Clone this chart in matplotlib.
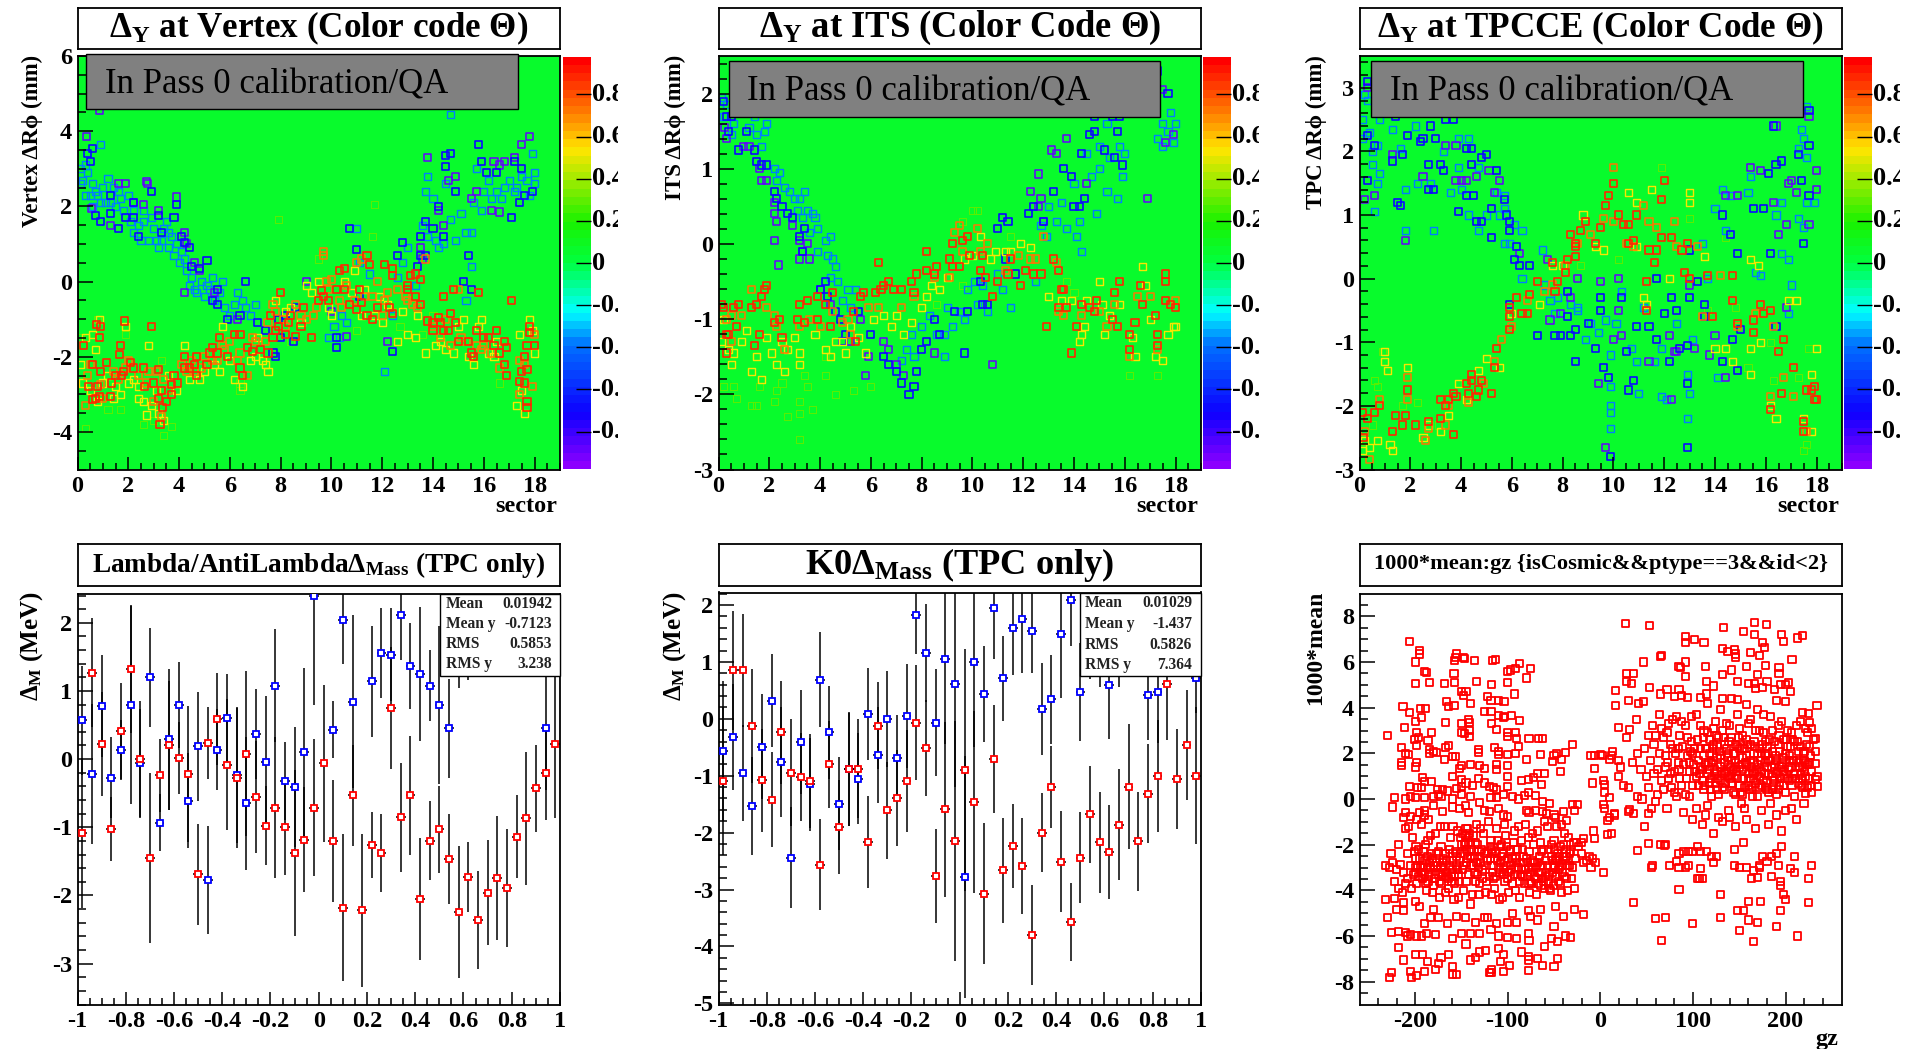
import matplotlib
matplotlib.use("Agg")
import matplotlib.pyplot as plt
import numpy as np
from matplotlib.colors import LinearSegmentedColormap, BoundaryNorm
from matplotlib.patches import Rectangle
from matplotlib.transforms import Bbox

plt.rcParams['font.family'] = ['Liberation Serif', 'DejaVu Serif']
plt.rcParams['font.weight'] = 'bold'
plt.rcParams['mathtext.fontset'] = 'custom'
plt.rcParams['mathtext.rm'] = 'Liberation Serif:bold'
plt.rcParams['mathtext.it'] = 'Liberation Serif:bold'
plt.rcParams['mathtext.bf'] = 'Liberation Serif:bold'
plt.rcParams['axes.unicode_minus'] = False

W, H = 1907, 1049

# ---- colour levels of the theta code
theta_purple, theta_blue, theta_cyan = -0.9, -0.68, -0.38
theta_green, theta_yellow, theta_orange, theta_red = 0.3, 0.52, 0.72, 0.9

# ---- vertex panel
vtx_cyan = [(0.1,3),(.2,2.7),(.3,3.1),(.5,2.3),(.6,2),(.7,2.4),(.9,3.65),(.9,2.1),(1.2,2.75),(1.4,2.5),(1.5,2),(1.7,2.2),(2.2,1.3),(2.2,1.9),(2.5,1.1),(2.6,1.6),(2.8,1.1),(3,1.4),(3.3,1.1),(3.4,1.4),(3.6,.9),(3.7,1.2),(3.8,.7),(4,.5),(4.2,.6),(4.4,-.1),(4.7,-.3),(4.9,0),(5.1,-.1),(5.3,.1),(5.6,-.3),(5.8,-.7),(6.2,-.6),(6.5,-.5),(6.8,-.9),(9.9,-1.5),(10.3,-1.5),(10.1,-1.2),(10.6,-1.1),(10.4,-.9),(11,1.4),(11.1,.5),(11.5,.2),(12.1,-2.4),(12.4,-.9),(12.6,.1),(12.8,.5),(13,.9),(13.3,-.1),(13.8,1.2),(13.7,2.4),(13.8,2.8),(14.7,4.45),(14.4,1),(14.1,1.1),(14.5,2.6),(14.7,1.65),(15.3,1.3),(15.5,1.3),(15.5,.4),(15.3,-.5),(15.7,3),(15.9,1.9),(16.3,2.2),(16.5,2.4),(16.8,2.5),(17.3,2.5),(17.7,2.7),(18,2.6),(17.9,3.4),(17.2,2.4),(.1,2.6),(.3,2.3),
 (.4,2.9),(.6,2.6),(.8,2.3),(1,2.5),(1.1,2.1),(1.3,2.1),(1.6,2.4),(1.8,1.9),(2,2.3),(2.1,1.6),(2.4,1.5),(2.6,1.9),(2.9,1.7),(3.1,1.1),(3.2,.9),(3.5,1.6),(3.6,1.3),(3.9,1.0),(4.1,.8),(4.3,.3),(4.5,.1),(4.6,-.2),(5,-.4),(5.2,-.2),(5.4,-.5),(5.7,0),(6,-.9),(6.3,-.3),(6.6,-.7),(7,-.6),(13.6,1.5),(14,2.2),(14.2,.9),(14.9,1.1),(15.1,1.8),(15.6,2.1),(16,2.4),(16.2,2.7),(16.7,2.2),(17,2.7),(17.5,2.8),(17.8,2.3),(18,2.9)]
vtx_purple = [(0.35,3.85),(.85,4.55),(.55,1.95),(1.3,1.5),(2.7,2.65),(2.75,2.62),(2.2,2.1),(2.6,2.05),(3.2,1.9),(3.9,2.25),(4.2,1.3),(4.3,1.0),(4.6,0.5),(4.2,-0.3),(6.3,-1.0),(9.0,0),(10,-.8),(10.6,-1.45),(12.2,-1.6),(13.5,.9),(13.6,.6),(13.8,3.3),(14.2,1.9),(14.4,1.5),(14.9,2.8),(15.7,2.4),(16.3,1.9),(16.6,1.85),(16.4,3.2),(16.6,3.1),(16.8,3.2),(17.5,3.65),(17.8,3.85),(17.2,3.3),(1.6,2.6),(1.9,2.6),(4.8,.3),(5.4,-.3),(14.6,2.7),(15.5,2.2)]
vtx_blue = [(0.4,3.4),(.5,3.2),(.6,3.55),(.7,1.75),(.9,1.6),(1.3,2.3),(1.3,1.8),(1.6,1.4),(1.9,1.7),(2.2,1.7),(2.2,2.1),(2.9,2.4),(2.4,1.2),(3.2,1.75),(3.3,1.3),(3.8,1.7),(3.9,2.05),(4.1,1.2),(4.2,1.05),(4.4,.9),(4.5,.4),(4.8,.35),(5.1,.55),(5.5,-.6),(5.3,-.5),(5.5,-.2),(5.9,-1),(6.4,-.9),(6.6,0),(7.1,-1.1),(7.4,-1.3),(7.9,-1),(8,-1.5),(7.7,-1.9),(7.8,-2),(8.2,-.9),(8.5,-1.6),(8.6,-.7),(10.2,-1.75),(10.2,-1.5),(10.7,1.4),(11,.85),(11.1,-.4),(12.4,-1.85),(12.6,.7),(12.8,1.05),(13.4,.4),(13.5,.7),(13.7,.7),(13.5,1.2),(13.7,1.6),(14,1.4),(14.2,2),(14.4,1.2),(14.5,3.05),(14.5,3.35),(14.7,3.4),(14.9,2.4),(15.5,-.2),(15.2,0),(15.4,.7),(15.8,3.65),(15.9,3.2),(16.1,2.9),(16.5,2.9),(17.1,1.7),(17.4,2.1),(17.2,3.2),(17.5,3),(17.9,2.4),(17.6,2.3)]
vtx_green = [(0.3,-3.9),(.1,-1.5),(.8,-1.0),(3,-3.7),(3.4,-4.1),(3.7,-3.85),(7.9,1.65),(11.7,2.05),(11.6,1.2),(1.2,-3.4),(1.7,-3.4),(2.6,-3.8),(6.4,-2.9),(6.4,-2.7),(12.7,-1.2),(13.6,-1.4),(14,-.9),(16.6,-2.7),(9.5,.6),(3.3,-2.1),(1.9,-1.4),(8.4,-1.6),(11,-1.3),(12.4,-.8)]
vtx_yellow = [(0.1,-2.2),(.3,-1.5),(.7,-1.8),(.8,-3.2),(.85,-1.0),(1,-2.7),(1.4,-3.1),(1.7,-3),(1.9,-1.2),(2.2,-2.6),(2.4,-3.1),(2.7,-3.55),(2.8,-1.7),(2.9,-3.3),(3.2,-3.5),(3.4,-3.7),(3.6,-2.5),(3.9,-2.9),(4.2,-1.7),(4.8,-2.6),(5.6,-2.4),(5.7,-1.2),(6.2,-2.6),(6.5,-2.8),(7,-2),(7.3,-2.1),(7.4,-2.2),(7.5,-2.4),(7.8,-.5),(8.2,-.8),(9,-.1),(9.5,0),(10,-.9),(10.5,0),(10.9,.3),(11.3,-.2),(11.7,-.9),(12,-1.1),(12.6,-1.6),(13,-1.4),(13.3,-1.5),(13.7,-1.9),(14.3,-1.6),(14.8,-1.9),(15.2,-1),(15.4,-2),(15.6,-2.2),(15.9,-1),(16.2,-1.9),(16.4,-2),(17.3,-3.3),(17.6,-3.5),(17.4,-1.4),(17.8,-1),(18,-1.9),
 (.2,-2.7),(.5,-2.9),(.6,-1.4),(1.2,-2.5),(1.5,-2.8),(2,-2.7),(2.4,-2.8),(2.6,-3.2),(3.1,-2.9),(4.4,-2.6),(5,-2.4),(5.4,-2.2),(6,-2.1),(6.8,-2.1),(7.1,-1.5),(8.4,-.7),(8.8,-1.1),(9.2,-.3),(9.9,-.7),(10.8,-.3),(11.2,-.9),(11.9,-.4),(12.2,-.6),(12.8,-.8),(13.4,-.9),(14.1,-1.7),(14.5,-1.8),(15,-1.2),(15.8,-1.2),(16.5,-1.6),(17.5,-2.9),(17.9,-1.3)]
vtx_orange = [(0.3,-3.3),(.5,-2.2),(.9,-2.75),(1.6,-2.6),(1.9,-2.3),(2.4,-2.5),(2.7,-2.7),(3.1,-2.4),(3,-3.2),(3.3,-3.6),(3.6,-2.9),(4.1,-2.2),(4.3,-2.4),(4.6,-2.4),(5,-2),(5.3,-2.1),(5.7,-1.7),(6,-1.6),(6.3,-2.1),(6.7,-2.5),(7,-1.6),(7.5,-1.1),(7.8,-.8),(8.1,-1),(8.6,-.6),(9,-1),(9.3,-.9),(9.8,0),(10,.05),(10.3,-.5),(10.6,-.1),(11,.5),(11.2,.6),(11.3,-.4),(11.8,0),(12,-.9),(12.2,-.3),(12.6,-.2),(13,-.5),(13.4,-.7),(13.7,.6),(14,-1.2),(14.3,-1.5),(14.7,-1.7),(15,-.2),(15.3,-1.6),(15.7,-1.7),(15.9,-1.8),(16.3,-1.9),(16.6,-2.3),(17.4,-3),(17.4,-2.1),(17.9,-2.8),(18,-1.4),(9.7,.7),(9.7,.8),(7.7,-.6),
 (.4,-2.5),(1,-3.1),(1.4,-2.4),(2,-2.1),(2.8,-2.4),(3.4,-2.6),(4.5,-2.1),(4.9,-2.3),(5.5,-2.1),(5.8,-1.8),(6.4,-1.9),(6.9,-1.5),(7.4,-1.6),(8.2,-1.2),(8.8,-.9),(9.4,-.7),(9.9,-.2),(10.4,-.7),(10.9,-.5),(11.6,-.4),(12.1,-.5),(12.9,-.4),(13.2,-.6),(14.5,-1),(15.1,-1.5),(16,-1.7),(17.6,-2.2)]
vtx_red = [(0.25,-1.7),(.45,-2.8),(.6,-3.15),(.7,-3.1),(.75,-1.15),(.8,-2.8),(.85,-3.05),(.85,-1.5),(.9,-1.2),(.6,-2.2),(.9,-2.4),(1.15,-2.15),(1.3,-3.05),(1.35,-2.7),(1.5,-2.5),(1.7,-1.7),(1.65,-1.95),(1.8,-2.4),(1.75,-2.5),(1.85,-1.05),(2.1,-2.15),(2.2,-2.3),(2.6,-2.3),(2.65,-2.8),(2.9,-1.2),(3,-2.7),(3.2,-3.1),(3.2,-2.35),(3.25,-3.8),(3.3,-2.9),(3.35,-3.35),(3.5,-3.2),(3.7,-2.75),(3.7,-3.0),(3.8,-2.5),(3.95,-2.7),(4.2,-2.3),(4.2,-2.0),(4.4,-2.3),(4.6,-2.2),(4.7,-2.5),(4.7,-2.0),(5.1,-2.2),(5.2,-1.9),(5.3,-1.75),(5.5,-1.9),(5.6,-1.5),(5.9,-2),(6.2,-1.4),(6.4,-1.4),(6.4,-2.3),(6.5,-2.5),(6.7,-1.75),(6.9,-1.85),(7.2,-1.8),(7.5,-1.9),(7.6,-.9),(7.7,-1.5),(7.8,-1.3),(7.9,-1.2),(8,-.3),(8.2,-1.4),(8.3,-1.1),(8.4,-.9),(8.6,-1.45),(8.8,-1.2),(8.9,-.7),(9.2,-1.5),(9.5,-.5),(9.6,-.25),(9.7,-.4),(9.9,-.5),(10.3,.3),(10.5,.35),(10.2,-.2),(10.5,-.2),(10.7,-.6),(11,-.75),(11.2,-.55),(11.1,-.2),(11.4,-.9),(11.4,.7),(11.5,.45),(11.6,-1),(11.8,-.7),(12.3,-.7),(12.4,-.85),(12.1,.45),(12.4,.35),(12.4,.15),(13,-.1),(13,-.2),(13.1,.15),(13.3,.2),(13.3,-.4),(13.5,-.6),(13.5,.05),(13.8,-1.05),(14,-1.1),(14,-1.3),(14.2,-.95),(14.3,-1.1),(14.4,-1.3),(14.4,-.4),(14.6,-1.3),(14.7,-.85),(14.8,-.2),(14.9,-1.1),(15,-1.6),(15.4,-1.6),(15.5,-1.9),(15.6,-2),(15.7,-1.3),(15.8,-.3),(16,-1.5),(16.2,-1.5),(16.4,-1.7),(16.5,-1.3),(16.6,-1.9),(16.8,-1.6),(16.9,-1.75),(16.8,-2.2),(16.9,-2.5),(17.1,-.5),(17.4,-2.65),(17.5,-2.4),(17.6,-2.7),(17.7,-3.2),(17.7,-3.35),(17.6,-2),(17.7,-1.7),(17.7,-2.35),(17.8,-1.2),(17.8,-1.35),(18,-1.7)]

# ---- ITS panel
its_cyan = [(.1,1.95),(.2,1.7),(.5,1.45),(1.4,1.7),(1.8,1.5),(1.9,1.6),(2.2,1.0),(2.3,.85),(2.8,.7),(3,.6),(3.2,.6),(3.4,.7),(3.5,.45),(3.7,.4),(3.8,.35),(3.9,.2),(4.2,.05),(4.4,.1),(4.5,-.2),(4.6,-.3),(4.7,-.5),(5.1,-.6),(5.4,-.6),(7.4,-1.4),(7.7,-1.5),(8.0,-1.1),(8.6,-1.2),(8.9,-1.5),(9,-.85),(9.5,-.9),(9.8,-.6),(10.2,-.8),(10.6,-.9),(11,-.4),(11.5,-.85),(12.5,-.5),(12.9,.1),(13,.5),(13.3,.3),(13.7,.2),(14.1,.1),(14.2,.3),(14.3,-.1),(14.9,.4),(14.7,.9),(15,1.0),(15.3,.7),(15.7,.6),(15.8,1.3),(15.3,1.6),(16,1.2),(17.3,1.4),(17.5,1.6),(17.8,1.75),(18,1.6),(17.7,1.5),
 (.3,1.85),(.6,1.6),(1.2,1.55),(1.5,1.45),(1.7,1.3),(2.4,.95),(2.6,.75),(3.1,.45),(3.3,.35),(3.6,.15),(3.9,-.1),(4.3,-.15),(4.4,-.45),(4.9,-.75),(5.2,-.85),(7.2,-1.55),(7.6,-1.2),(8.3,-.95),(8.9,-1.2),(9.2,-1.1),(9.7,-1),(10.1,-.5),(10.4,-.55),(11.2,-.6),(12.7,.25),(13.5,.55),(14,.8),(14.5,1.2),(15,1.3),(15.4,1.15),(15.9,.9),(17.5,1.3),(17.9,1.35)]
its_purple = [(.25,1.55),(.3,1.4),(1.2,1.3),(1.6,1.0),(1.7,.85),(1.9,.85),(2.2,.05),(2.35,-.28),(2.2,.4),(2.2,.55),(2.3,.3),(2.9,.25),(3.2,.05),(3.2,-.2),(3.3,-.1),(3.5,0),(3.6,-.2),(4.0,-.6),(4.4,-.8),(5.2,-1.3),(5.6,-1.0),(5.9,-1.5),(6.5,-1.3),(6.7,-1.4),(7,-1.6),(7.3,-1.75),(5.8,-1.75),(8.5,-1.45),(10.8,-1.6),(12.3,.7),(12.6,.5),(12.7,.6),(12.8,.3),(12.6,.93),(13.1,1.25),(13.3,1.2),(13.7,1.4),(14.5,.8),(16.9,.6),(17.6,1.35),(17.2,2.05),(17.5,2.05),(17.9,1.45),(1.0,1.3)]
its_blue = [(.2,1.9),(.3,1.7),(.4,1.5),(.5,1.7),(.8,1.25),(1.1,1.5),(1.4,1.25),(1.5,1.1),(1.7,1.05),(1.9,1.05),(2.2,.7),(2.3,.6),(2.5,.5),(2.7,.4),(2.9,.35),(3.2,.1),(3.4,.2),(3.3,-.1),(4.0,-.6),(4.2,-.5),(4.3,-.7),(4.6,-.9),(4.8,-1.0),(4.9,-1.3),(5,-1.2),(5.5,-.9),(6,-1.2),(6.5,-1.5),(6.7,-1.6),(7,-1.7),(7.2,-1.85),(7.5,-2.0),(7.7,-1.9),(7.8,-1.7),(8,-1.4),(8.2,-1.3),(8.5,-1),(8.7,-1.2),(9.3,-.9),(9.7,-1.45),(9.8,-.9),(10.3,-.5),(10.4,-.8),(10.6,-.8),(11,.2),(11.2,.35),(11.4,.3),(11.3,-.2),(11.7,-.4),(12.2,.4),(12.4,.5),(12.8,.3),(13.2,.7),(13.6,1.0),(13.9,.9),(14,.5),(14.2,.5),(14.4,.6),(14.3,1.2),(14.6,1.45),(14.8,1.5),(15.5,1.7),(15.7,1.5),(15.8,1.7),(15.6,1.15),(16.5,1.75),(17.3,2.3),(17.7,2.0),(14.8,1.7),(15.2,1.25),(15.9,1.05)]
its_green = [(.2,-1.9),(.6,-1.9),(.7,-2.05),(1.3,-2.15),(1.5,-2.15),(1.6,-1.9),(2.2,-2.1),(2.3,-1.95),(2.5,-1.85),(2.7,-2.3),(3.2,-2.25),(3.2,-2.6),(3.2,-2.1),(3.4,-1.75),(3.5,-1.9),(3.7,-2.2),(4.2,-1.75),(4.6,-2.0),(4.2,-1.5),(5.3,-1.95),(6.0,-1.9),(10,.45),(10.2,.45),(9.6,.3),(11.5,.1),(14,-.65),(16.2,-1.75),(17.3,-1.75),(13.7,-.5),(8.6,-.8),(9.6,-.55)]
its_yellow = [(.2,-1),(.1,-1.3),(.5,-1.6),(.6,-1.45),(1.3,-1.7),(1.5,-1.5),(1.7,-1.8),(2.1,-1.45),(2.3,-1.6),(2.6,-1.7),(2.7,-1.4),(3.2,-1.45),(3.2,-1.6),(3.8,-1.2),(4.2,-1.4),(4.6,-1.3),(5,-1.45),(5.5,-1.25),(5.8,-1.45),(6.1,-1),(6.8,-1.1),(7.3,-1.2),(7.6,-1.05),(8.2,-.7),(8.7,-.6),(9.7,-.2),(10.3,.1),(10.9,-.1),(11.5,-.1),(11.9,0),(13,-.7),(13.9,-.75),(14.5,-.75),(14.3,-1.2),(14.2,-1.3),(15,-.5),(15.2,-1.2),(15.8,-.8),(16.4,-1.5),(16.7,-.3),(17,-1.0),(17.2,-1.5),(17.5,-1.55),(17.9,-1.1),(18,-1.1),
 (.4,-1.4),(.9,-1.3),(1.1,-1.15),(1.9,-1.25),(2.5,-1.3),(3,-1.25),(4.4,-1.5),(4.9,-1.3),(5.2,-1.1),(6.5,-.95),(7,-.95),(8,-.85),(8.4,-.55),(9,-.45),(10,-.15),(10.7,-.2),(11.3,-.1),(12.3,-.05),(13.5,-.75),(14.4,-1.1),(15.1,-.8),(15.4,-.95),(16.3,-1.25),(16.8,-.55),(17.7,-1.2)]
its_orange = [(.3,-1),(.5,-.95),(.5,-1.3),(.9,-.95),(1.3,-.6),(1.9,-.85),(2.2,-.95),(2.3,-1.1),(2.6,-1.4),(3.2,-1.1),(3.6,-1.0),(4,-1.1),(4.5,-.9),(4.9,-1.05),(5.1,-1.0),(5.2,-1.2),(5.9,-.85),(6.3,-.85),(7.2,-.85),(7.7,-.7),(8.5,-.45),(9.1,-.45),(9.3,.15),(9.5,.25),(9.6,-.1),(10.2,.2),(10.3,-.1),(10.6,.0),(11.3,-.35),(11.8,-.15),(12.3,-.2),(12.5,-.2),(12.8,.1),(13.3,-.25),(13.4,-.9),(13.6,-.95),(14.3,-.95),(15,-.9),(15.3,-1.1),(15.6,-.8),(16.2,-1.5),(16.5,-.7),(17,-.7),(17.3,-1.4),(18,-.75)]
its_red = [(.1,-.8),(.2,-.85),(.3,-1.2),(.3,-1.45),(.4,-1.2),(.6,-.85),(.7,-1.1),(.8,-.8),(1.3,-.85),(1.4,-1.35),(1.5,-.8),(1.6,-1.2),(1.7,-.7),(1.8,-.6),(1.9,-.55),(2.2,-1.05),(2.4,-1.0),(2.5,-1.25),(3.1,-1.0),(3.2,-.8),(3.4,-1.05),(3.5,-.75),(3.9,-.7),(3.9,-1.0),(4.2,-.8),(4.4,-1.1),(4.5,-.65),(5.3,-.9),(5.4,-1.3),(5.6,-.7),(5.7,-.65),(6.2,-.65),(6.3,-.25),(6.4,-.6),(6.5,-.55),(6.7,-.5),(6.9,-.6),(7.2,-.6),(7.6,-.5),(7.7,-.65),(7.8,-.4),(8.2,-.35),(8.2,-.1),(8.5,-.4),(8.6,-.3),(9.1,-.2),(9.2,-.3),(9.2,0),(9.5,-.3),(9.6,.05),(9.8,.1),(9.9,-.15),(10.3,-.35),(10.4,-.15),(10.5,-.45),(10.8,-.7),(11.0,-.5),(11.4,-.4),(11.5,-.2),(11.9,-.55),(12.1,-.35),(12.4,-.4),(12.7,-.4),(13.2,-.2),(13.4,-.35),(13.5,-.6),(13.6,-.6),(13.4,-.85),(13.7,-.85),(12.9,-1.1),(13.9,-1.45),(14.1,-1.1),(14.3,-.8),(14.6,-.85),(14.8,-.9),(14.9,-.75),(15.5,-1),(15.6,-.65),(15.7,-1.1),(15.8,-.5),(16.2,-1.2),(16.2,-1.4),(16.4,-1.05),(16.6,-.55),(16.7,-.8),(17.2,-.95),(17.3,-1.2),(17.3,-1.35),(17.6,-.75),(17.8,-.8),(17.6,-.4),(17.6,-.5),(18,-.85)]

# ---- TPCCE panel
tpc_cyan = [(.2,2.9),(.1,2.5),(.3,2.8),(.4,2.3),(.5,2.0),(.5,1.8),(.7,1.5),(.7,2.1),(.8,1.65),(.8,2.5),(.6,1.05),(1.3,2.35),(1.6,2.05),(1.8,1.4),(1.8,.75),(2.2,2.4),(2.3,1.5),(2.8,1.5),(2.9,.75),(3.3,2.0),(3.6,1.35),(3.9,2.2),(3.9,1.75),(4.0,1.4),(4.3,2.2),(4.3,1.0),(4.7,1.75),(4.7,.75),(5,1.0),(5.4,1.35),(5.5,1.0),(5.7,1.1),(5.7,1.3),(5.7,.55),(5.9,.55),(6.1,.85),(6.4,.75),(6.4,.0),(7.2,.45),(7.3,-.1),(7.5,-.35),(7.7,-.55),(7.8,-.3),(8.3,-.4),(8.6,-.5),(8.6,-.45),(8.9,-.95),(9.1,-.7),(9.4,-.85),(9.7,-.65),(9.9,-1.2),(9.9,-1.7),(9.9,-2),(9.9,-2.1),(9.9,-2.35),(10.1,-.7),(10.3,-.2),(10.7,-1.1),(10.9,-1.3),(11,-1.8),(11.2,-.45),(11.6,-1.3),(11.9,-1.1),(11.9,-1.85),(12.1,-1.9),(12.5,-.7),(12.9,-1.5),(12.9,-2.2),(13,-1.8),(13.1,-.95),(13.5,.55),(13.7,.0),(14.1,-1.55),(14,1.1),(14.3,1.4),(14.4,.75),(14.6,1.3),(15.3,1.35),(15.4,1.6),(15.6,.1),(15.8,.05),(16.4,1.0),(16.6,1.2),(16.6,.4),(16.9,.3),(16.9,-.55),(17,-.1),(17.3,.95),(17.5,.8),(17.6,1.2),(17.9,1.2),(17.4,2.35),(17.5,2.2),(17.3,2.05),(17.6,1.9),(17.6,2.7),(.1,2.2)]
tpc_purple = [(.2,1.25),(.6,1.3),(1.3,1.95),(1.8,.6),(2.5,1.6),(3.4,2.1),(3.8,2.1),(3.8,1.55),(4,1.55),(4.2,1.55),(4.6,1.6),(5.1,1.7),(5.5,1.55),(5.3,1.35),(6.3,.4),(7.4,.3),(7.5,-.65),(7.9,-.55),(8.3,-.3),(8.6,.0),(9.4,-1.65),(9.5,-.05),(9.7,-2.65),(10,-.95),(10.2,.0),(10.2,-.5),(10.3,-.9),(11.4,-1.3),(12.4,-1.15),(12.5,-1.15),(12.2,-.9),(12.3,-1.9),(13,-.1),(13.2,-1.1),(13.8,-1.2),(14.4,1.3),(14.4,-1.55),(14.9,1.3),(14,-.9),(15.4,1.75),(15.8,1.7),(16.3,1.2),(16.5,.7),(16.8,.85),(16.8,-.45),(16.9,1.5),(17,1.55),(17.2,1.35),(17.7,.85),(17.7,2.55),(18,1.7),(18,1.4),(16.4,2.4),(.3,3.0)]
tpc_blue = [(.3,3.1),(.3,2.25),(.6,2.1),(.3,1.55),(1.3,1.85),(1.4,2.55),(1.5,1.2),(1.6,1.15),(1.7,1.95),(1.9,2.25),(2.4,2.15),(2.5,2.2),(2.7,1.8),(2.8,2.4),(2.7,1.4),(2.9,1.4),(3,2.2),(3.2,1.8),(3.3,1.7),(3.4,2.5),(3.7,2.5),(3.9,1.05),(4.2,2.05),(4.4,2.05),(4.2,1.3),(4.5,1.3),(4.4,1.8),(4.6,.9),(4.8,.9),(4.8,1.9),(5,1.95),(5.2,1.1),(5.4,1.7),(5.2,.65),(5.7,1.25),(5.8,1.0),(5.9,.9),(5.9,.75),(5.9,-.4),(6.1,.3),(6.2,.5),(6.3,.2),(6.7,.2),(7,-.9),(7.7,-.9),(7.9,-.9),(8.2,-.6),(8.2,-.2),(8.3,-.9),(8.5,-.8),(8.5,-1.3),(9,-.7),(9.3,-1.1),(9.5,-.3),(9.5,-.5),(9.6,-1.4),(9.9,-2.8),(9.8,-1.55),(10.3,-.3),(10.5,-1.15),(10.6,-1.75),(10.8,-1.6),(10.9,-.75),(11.4,-.75),(11.7,-.95),(11.7,.0),(12,-.55),(12.2,-1.3),(12.3,-.3),(12.5,-.5),(12.6,-1.1),(12.9,-1.05),(12.9,-1.65),(12.9,-2.65),(13,-.3),(13,.45),(13.3,-.05),(13.6,-.4),(13.6,-.6),(14.3,1),(14.3,-1.3),(14.6,.7),(14.7,-.95),(14.9,.4),(14.9,-1.45),(15,-.8),(15.5,1.1),(15.9,1.1),(16.1,1.65),(16.2,.4),(16.4,1.8),(16.6,1.85),(17.7,1.3),(17.5,.55),(17.7,2.65),(17.7,2.1),(17.3,1.95),(17.4,1.55),(16.3,2.4),(16.4,-.75)]
tpc_green = [(.9,-1.15),(.7,-1.7),(.5,-2.3),(.6,-1.6),(1.7,-2),(2.3,-1.95),(3.1,-2.3),(11.9,1.75),(13,.95),(10.2,.3),(16.3,-1.6),(17.7,-1.1),(17.6,-2.6),(17.5,-2.7),(17.3,-1.55),(15.3,-1.4),(16.2,-1.0),(13.7,-.5),(14.4,.65),(8.7,.2),(14.8,-.45)]
tpc_yellow = [(.2,-2.55),(.1,-2.7),(.4,-2.65),(.7,-2.55),(1,-1.15),(1,-1.3),(1.1,-1.45),(1.3,-2.7),(1.2,-2.6),(1.9,-1.4),(2.5,-2.5),(2.7,-2.3),(3.2,-2.4),(3.5,-2.15),(3.9,-1.65),(4.2,-1.9),(4.7,-1.45),(5,-1.25),(5.5,-1.4),(6,-.55),(7.1,-.4),(7.6,.2),(8,.2),(8.8,1.0),(9.3,.5),(9.6,.45),(10.6,1.35),(10.9,1.2),(10.9,.5),(11.2,-.3),(11.3,-.4),(11.5,1.4),(12.2,.0),(13,1.35),(13,1.2),(13.6,.35),(14,-1.1),(14.4,-1.1),(14.7,-1.3),(15.4,-1.1),(15.4,-1.5),(15.8,-1.0),(16.2,-2.0),(16.4,-2.2),(16.9,-.35),(17.2,-.35),(17.5,-2.2),(17.8,-2.4),(18,-1.1),(17.8,-1.5),(15.4,.3),(15.7,.2)]
tpc_orange = [(.2,-2.4),(.4,-2.85),(.8,-1.9),(1.9,-1.55),(1.9,-1.9),(2.6,-2.55),(2.7,-2.35),(3.4,-2.3),(3.5,-2),(4.3,-1.95),(4.9,-1.65),(5.3,-1.3),(5.6,-.95),(6,-.75),(6.6,-.35),(7.3,-.2),(7.6,-.1),(8.1,.2),(8.6,.55),(9.1,.7),(9.6,.95),(10,1.75),(10,.9),(10.5,.55),(10.8,.5),(11.2,1.15),(11.4,.9),(11.7,.8),(12.4,.9),(12.5,.5),(13.3,.5),(13.5,-.6),(14.2,.05),(14.9,-.75),(15.6,-.55),(16.2,-1.85),(16.7,-1.55),(17.1,-1.85),(17.6,-2.4),(16.3,-.75)]
tpc_red = [(.1,-2.1),(.15,-2.5),(.3,-2.2),(.6,-2.1),(.8,-2.0),(1.3,-2.4),(1.4,-2.15),(1.7,-2.3),(1.8,-2.15),(1.9,-1.75),(2.2,-2.3),(2.7,-2.25),(3.2,-1.9),(3.2,-2.2),(3.4,-2),(3.5,-1.9),(3.7,-2.45),(3.7,-1.8),(3.8,-1.85),(4.2,-1.65),(4.3,-1.8),(4.4,-1.6),(4.4,-1.5),(4.6,-1.85),(4.7,-1.75),(4.8,-1.6),(5.2,-1.8),(5.3,-1.4),(5.4,-1.1),(5.9,-.8),(5.9,-.6),(5.9,-.45),(6.2,-.3),(6.4,-.55),(6.6,-.55),(6.7,-.25),(7,-.05),(7.6,.25),(7.7,-.2),(7.8,-.05),(8.1,.1),(8.2,.3),(8.3,.7),(8.5,.35),(8.5,.5),(8.5,.55),(8.7,.75),(8.9,.9),(9.3,.55),(9.5,.8),(9.7,1.15),(9.8,1.3),(10,1.5),(10.2,1),(10.4,.85),(10.6,.55),(10.6,.85),(10.8,.6),(10.9,1),(11.3,-.05),(11.3,-.5),(11.4,.45),(11.6,.25),(11.7,.45),(11.9,.65),(11.9,1.25),(12,1.55),(12.3,.65),(12.7,.45),(12.8,.1),(12.9,.55),(13,.0),(13.7,.05),(13.9,-.6),(14.7,.05),(14.7,-.35),(14.9,-.7),(15.5,-.85),(15.5,-.65),(15.8,-.4),(15.9,-.55),(16.2,-.5),(16.2,-2.05),(16.5,-1.15),(16.7,-.95),(16.6,-1.8),(17.1,-1.4),(17.5,-2.25),(17.5,-2.4),(17.6,-1.75),(17.8,-1.75),(17.9,-1.7),(17.9,-1.9),(18,-1.9)]

# ---- mass panels, 50 bins in x, blue then red
bin_x = [-0.98 + 0.04 * i for i in range(50)]
lam_blue = [.57,-.22,.78,-.27,.14,.8,-.06,1.2,-.93,.29,.8,-.61,.19,-1.77,.14,.61,-.23,-.65,.37,-.04,1.08,-.32,-.41,.1,2.39,None,.43,2.04,.84,None,1.14,1.55,1.53,2.12,1.36,1.25,1.08,.8,.45,1.9,1.6,None,None,None,None,None,None,None,.45,None]
lam_blue_err = [.8,1.03,.75,.59,.44,1.46,.8,.73,.42,1.03,.63,.7,.8,.79,.6,.64,1.0,.97,.66,.97,.83,.57,.88,1.23,1.6,0,.42,.64,1.27,0,.82,.66,.68,.67,.63,.98,.52,1.16,.72,.86,.44,0,0,0,0,0,0,0,.9,0]
lam_red = [-1.08,1.27,.22,-1.03,.41,1.32,0,-1.45,-.24,.2,.02,-.22,-1.69,.24,.59,-.08,-.28,.08,-.55,-.98,-.71,-1.0,-1.38,-1.18,-.71,-.06,-1.2,-2.18,-.53,-2.22,-1.26,-1.38,.75,-.85,-.53,-2.05,-1.2,-1.03,-1.47,-2.24,-1.73,-2.36,-1.96,-1.75,-1.89,-1.14,-.87,-.43,-.21,.22]
lam_red_err = [1.1,.8,.76,.47,.7,.93,.85,1.25,.53,.94,.53,1.0,.74,.53,.68,.96,1.03,1.21,.82,.58,1.03,.7,1.22,.77,1.0,1.15,.9,1.08,.74,1.12,.49,.57,.89,.8,.87,.89,.58,.64,.66,.97,.52,.72,.77,.91,.87,.61,.98,.64,.69,1.09]
k0_blue = [-.56,-.32,-.95,-1.53,-.49,.32,-.76,-2.44,-.41,-1.15,.69,-.24,-1.49,-.88,-1.05,.08,-.64,0,-.68,.05,1.83,1.15,-.07,1.05,.61,-2.78,1.0,.44,1.95,.71,1.59,1.76,1.54,.17,.34,1.49,2.09,.47,1.2,1.2,.59,1.3,None,None,.42,.47,None,None,None,.71]
k0_blue_err = [1.23,.93,.84,.86,.92,.82,.96,.89,.91,.82,.83,.81,.82,1.0,.8,.81,.84,.84,.74,.91,.69,.86,.94,1.5,1.8,2.13,1.5,.84,.89,.75,.82,.95,.74,.81,.78,1.13,.81,.86,.5,.64,.95,.74,0,0,.79,.9,0,0,0,.6]
k0_red = [-1.09,.85,.85,-.12,-1.08,-1.42,-.24,-.95,-1.02,-1.09,-2.56,-.8,-1.9,-.89,-.88,-2.17,-.12,-1.61,-1.39,-1.09,-.07,-.51,-2.76,-1.59,-2.14,-.9,-1.46,-3.07,-.71,-2.66,-2.24,-2.59,-3.8,-2.0,-1.19,-2.51,-3.57,-2.44,-1.68,-2.17,-2.34,-1.86,-1.19,-2.15,-1.32,-1.0,.61,-1.05,-.46,-1.0]
k0_red_err = [1.3,1.04,.99,1.0,.9,.83,.91,.94,.77,.82,.8,.77,.82,1.0,.87,.81,.77,.86,.84,.89,1.01,.84,.82,1.54,2.11,2.13,1.6,1.24,.95,.92,.74,.84,.88,.69,.72,.89,.68,.8,.85,.89,.83,.97,1.1,.87,.87,.98,.98,.88,.96,1.2]

# ---- cosmic panel, gz against 1000*mean
gz_left_outer = [(-206,6.9),(-195,6.5),(-195,6.35),(-200,6),(-190,5.6),(-188,5.55),(-200,5.05),(-184,5.1),(-168,5.05),(-158,5.5),(-157,5.1),(-157,6.05),(-156,6.2),(-155,6.35),(-148,6.2),(-147,6.15),(-150,4.7),(-145,4.7),(-136,6.05),(-116,6.05),(-113,6.1),(-117,5.0),(-100,5.6),(-97,5.65),(-92,5.7),(-87,5.95),(-100,5.1),(-93,4.6),(-80,5.3),(-75,5.7),(-134,5.15),(-148,4.55),(-118,4.3),(-110,4.3),(-122,4.5),(-104,4.25),(-166,4.25),(-158,4.1),(-164,4.05),(-140,4.2),(-194,3.95),(-189,3.95),(-213,4.05),(-206,3.8),(-200,3.4),(-211,3.15),(-193,3.55),(-230,2.8),(-198,2.9),(-201,2.6),(-196,2.7),(-182,2.9),(-186,2.55),(-198,2.35),(-167,3.35),(-150,3.3),(-142,3.5),(-141,3.35),(-150,2.9),(-147,2.85),(-141,3),(-141,2.75),(-125,3.85),(-118,3.85),(-117,3.3),(-110,3.65),(-105,3.55),(-103,3.6),(-96,3.65),(-87,3.45),(-112,3.05),(-100,2.9),(-92,2.9),(-100,2.75),(-90,2.65),(-77,2.65),(-67,2.65),(-62,2.65),(-164,2.35),(-160,1.85),(-156,1.85),(-167,2.25),(-88,2.3),(-215,2.25),(-210,2.0),(-207,1.95),(-215,1.6),(-215,1.45),(-200,1.4),(-198,1.6),(-184,2.15),(-180,2.1),(-177,2.05),(-168,1.75),(-132,2.15),(-132,2.05),(-114,2.25),(-110,2.1),(-110,1.95),(-100,1.95),(-92,2),(-80,1.75),(-65,1.95),(-50,1.9),(-47,2),(-38,2.05),(-30,2.4),(-52,1.65),(-42,1.75),(-43,1.2),(-60,1.1),(-68,1.1),(-72,.95),(-63,.65),(-152,1.35),(-140,1.5),(-130,1.45),(-125,1.35),(-112,1.5),(-112,1.3),(-100,1.45),(-100,1),(-85,.8),(-78,.85),(-184,2),(-150,1.45),
 (-192,.95),(-190,.75),(-182,.75),(-206,.55),(-197,.5),(-193,.5),(-176,.4),(-170,.4),(-210,.0),(-200,.05),(-205,.1),(-190,.05),(-222,.05),(-224,-.35),(-180,-.3),(-165,.35),(-155,.45),(-150,.55),(-160,1),(-150,.85),(-145,.7),(-138,.6),(-132,.9),(-125,.7),(-120,.55),(-115,.5),(-112,.4),(-100,.55),(-105,.2),(-95,.1),(-88,.0),(-82,.15),(-78,.3),(-70,.15),(-62,-.1),(-55,-.2),(-30,-.25),(-25,-.25),(-28,-.5),(-40,-.55),(-50,-.7),(-118,.05),(-112,.05),(-130,-.15),(-140,.1),(-150,.2),(-160,.0),(-172,.1),(-175,.2),(-180,.1),(-146,-.3),(-152,-.4),(-142,-.6),(-160,-.35),(-170,-.55),(-190,-.5),(-195,-.6),(-210,-.6),(-212,-.8),(-205,-.75),(-198,-.9),(-190,-.7),(-185,-.9),(-125,-.5),(-120,-.55),(-110,-.4),(-105,-.7),(-100,-.75),(-80,-.5),(-77,-.6),(-70,-.5),(-62,-.55),(-58,-.65),(-48,-.8),(-36,-.95),(-42,-1.1),
 (-232,-4.4),(-222,-4.35),(-220,-4.85),(-212,-4.55),(-212,-4.9),(-230,-5.2),(-195,-4.7),(-200,-4.5),(-190,-5.45),(-183,-5.2),(-180,-4.85),(-175,-5.2),(-165,-5.45),(-155,-5.15),(-146,-5.2),(-140,-4.6),(-135,-5.4),(-125,-5.2),(-122,-5.2),(-112,-5.45),(-100,-5.4),(-95,-5.0),(-90,-5.4),(-78,-4.9),(-75,-5.15),(-68,-5.3),(-65,-4.85),(-48,-4.7),(-50,-5.6),(-40,-5.15),(-28,-4.85),(-18,-5.05),(-218,-5.8),(-225,-5.85),(-210,-5.85),(-208,-6.0),(-205,-5.95),(-198,-6),(-193,-6),(-188,-5.9),(-178,-5.95),(-160,-6.1),(-150,-5.9),(-140,-5.9),(-130,-5.9),(-118,-5.7),(-110,-6),(-100,-6.05),(-90,-6.1),(-78,-5.9),(-77,-6.2),(-60,-6.45),(-53,-6.1),(-46,-6.25),(-38,-6),(-32,-6.05),(-218,-6.5),(-212,-7.05),(-200,-6.8),(-192,-6.8),(-187,-7.1),(-175,-7.2),(-172,-6.95),(-164,-6.8),(-160,-7.35),(-145,-6.35),(-140,-7.05),(-135,-6.95),(-130,-6.7),(-124,-6.65),(-110,-6.55),(-108,-7.1),(-105,-6.8),(-98,-7.3),(-85,-6.7),(-78,-6.9),(-78,-7.05),(-68,-7),(-62,-7.3),(-50,-7.35),(-46,-7),(-225,-7.6),(-228,-7.8),(-205,-7.55),(-204,-7.8),(-198,-7.75),(-190,-7.55),(-178,-7.45),(-160,-7.7),(-155,-7.7),(-120,-7.6),(-118,-7.6),(-117,-7.45),(-105,-7.55),(-78,-7.5),(-10,-3),(-15,-2.7),(-12,-2.5),(-5,-2.8),(-8,-2.6),(-18,-2.8),(3,-3.2),(-20,-1.9),(-18,-1.75)]
gz_left_core = [(-232,-2.9),(-228,-3),(-224,-2.8),(-220,-3.1),(-216,-2.85),(-212,-3.2),(-222,-3.6),(-218,-3.9),(-214,-4.1),(-210,-3.7),(-208,-2.4),(-205,-2.9),(-202,-3.3),(-200,-2.6),(-198,-3.7),(-196,-2.2),(-194,-3.0),(-192,-3.5),(-190,-2.7),(-188,-4.0),(-186,-1.8),(-184,-3.2),(-182,-2.4),(-180,-3.8),(-178,-1.5),(-176,-2.9),(-174,-4.3),(-172,-2.1),(-170,-3.4),(-168,-1.2),(-166,-2.7),(-164,-3.9),(-162,-1.7),(-160,-3.1),(-158,-4.4),(-156,-2.3),(-154,-1.4),(-152,-3.6),(-150,-2.0),(-148,-4.0),(-146,-1.6),(-144,-2.8),(-142,-3.3),(-140,-1.9),(-138,-4.2),(-136,-2.5),(-134,-1.1),(-132,-3.0),(-130,-3.7),(-128,-2.2),(-126,-1.5),(-124,-4.1),(-122,-2.7),(-120,-3.4),(-118,-1.8),(-116,-2.4),(-114,-3.9),(-112,-1.3),(-110,-3.0),(-108,-2.1),(-106,-4.3),(-104,-2.7),(-102,-1.6),(-100,-3.5),(-98,-2.3),(-96,-3.1),(-94,-1.9),(-92,-4.0),(-90,-2.8),(-88,-1.2),(-86,-3.3),(-84,-2.2),(-82,-3.7),(-80,-2.6),(-78,-1.7),(-76,-4.1),(-74,-3.0),(-72,-2.0),(-70,-3.5),(-68,-1.4),(-66,-2.5),(-64,-3.8),(-62,-2.9),(-60,-1.0),(-58,-3.2),(-56,-2.2),(-54,-4.0),(-52,-2.7),(-50,-1.8),(-48,-3.4),(-46,-2.4),(-44,-3.0),(-42,-4.1),(-40,-2.0),(-38,-2.7),(-36,-3.5),(-34,-1.7),(-32,-2.3),(-30,-3.0),(-28,-3.9),(-26,-1.9),(-24,-2.1),(-20,-2.4),
 (-226,-2.4),(-218,-2.0),(-210,-1.3),(-207,-1.2),(-203,-1.7),(-199,-2.1),(-197,-2.9),(-193,-1.1),(-189,-2.0),(-187,-3.0),(-183,-1.6),(-181,-4.1),(-177,-2.4),(-175,-3.3),(-173,-1.2),(-169,-2.6),(-167,-4.1),(-163,-2.2),(-161,-3.6),(-159,-1.2),(-155,-2.9),(-153,-4.3),(-151,-1.7),(-149,-3.1),(-147,-2.4),(-145,-3.6),(-143,-1.3),(-141,-2.3),(-139,-2.9),(-137,-1.6),(-135,-3.6),(-133,-2.0),(-131,-4.2),(-129,-1.3),(-127,-3.1),(-125,-2.4),(-123,-3.6),(-121,-1.0),(-119,-2.1),(-117,-4.2),(-115,-2.9),(-113,-3.4),(-111,-1.8),(-109,-4.4),(-107,-2.5),(-105,-3.1),(-103,-1.1),(-101,-2.1),(-99,-4.1),(-97,-2.9),(-95,-3.7),(-93,-1.4),(-91,-2.5),(-89,-3.3),(-87,-4.3),(-85,-1.8),(-83,-2.8),(-81,-1.1),(-79,-3.4),(-77,-2.3),(-75,-3.6),(-73,-1.5),(-71,-2.8),(-69,-4.2),(-67,-3.2),(-65,-1.9),(-63,-2.3),(-61,-3.6),(-59,-2.7),(-57,-1.2),(-55,-3.3),(-53,-2.0),(-51,-3.8),(-49,-2.9),(-47,-1.2),(-45,-3.6),(-43,-2.1),(-41,-3.2),(-39,-1.5),(-37,-2.5),(-35,-4.0),(-33,-2.9),(-31,-3.5),(-29,-1.9),(-27,-2.6),
 (-208,-3.5),(-204,-3.9),(-200,-3.2),(-196,-3.4),(-192,-2.9),(-190,-3.3),(-186,-3.6),(-184,-2.8),(-180,-2.9),(-178,-3.3),(-174,-3.6),(-172,-3.0),(-170,-2.8),(-166,-3.2),(-164,-3.5),(-160,-2.7),(-158,-3.4),(-154,-3.1),(-152,-2.7),(-148,-2.9),(-146,-1.9),(-144,-2.2),(-142,-1.7),(-140,-2.5),(-136,-3.2),(-134,-2.8),(-130,-2.5),(-122,-2.3),(-116,-3.2),(-114,-2.6),(-108,-2.8),(-104,-3.3),(-100,-2.6),(-92,-2.6),(-88,-3.0),(-84,-3.4),(-78,-3.0),(-74,-3.7),(-68,-2.8),(-64,-3.2),(-60,-3.9),(-56,-3.7),(-52,-3.2),(-48,-2.6),(-44,-2.5),(-40,-2.5),
 (-201,-2.3),(-199,-3.0),(-195,-2.6),(-193,-3.2),(-191,-2.3),(-189,-3.7),(-187,-2.5),(-185,-3.4),(-183,-3.0),(-181,-2.6),(-179,-3.5),(-177,-2.8),(-175,-2.3),(-173,-3.2),(-171,-3.7),(-169,-3.0),(-167,-2.4),(-165,-3.4),(-163,-2.9),(-161,-3.3),(-159,-2.4),(-157,-3.7),(-155,-2.5),(-153,-3.3),(-151,-2.4),(-149,-1.5),(-147,-2.0),(-145,-1.3),(-143,-2.6),(-141,-1.5),(-139,-2.2),(-137,-2.9),(-135,-1.9),(-133,-3.3),(-131,-2.3),(-129,-2.8),(-127,-3.5),(-125,-2.9),(-119,-2.6),(-117,-2.2),(-115,-3.5),(-113,-2.3),(-111,-2.7),(-109,-3.2),(-107,-2.0),(-105,-2.4),(-103,-3.6),(-101,-2.9),(-99,-3.2),(-97,-2.2),(-95,-2.6),(-93,-3.3),(-91,-3.0),(-89,-2.2),(-87,-3.6),(-85,-3.1),(-83,-2.5),(-81,-3.1),(-79,-2.8),(-77,-3.7),(-75,-3.2),(-73,-2.7),(-71,-3.4),(-69,-3.0),(-67,-3.7),(-65,-2.9),(-63,-3.5),(-61,-2.2),(-59,-3.4),(-57,-2.9),(-55,-3.9),(-53,-2.5),(-51,-3.0),(-49,-2.2),(-47,-2.7),(-45,-3.1),(-43,-3.7),(-41,-2.9),(-39,-3.4),(-37,-2.2),(-35,-2.9),(-33,-2.4)]
gz_right_outer = [(27,7.7),(53,7.6),(133,7.5),(155,7.35),(167,7.75),(179,7.65),(167,7.2),(92,7.1),(92,6.85),(102,7),(112,6.85),(132,6.6),(137,6.45),(145,6.55),(146,6.35),(146,6.2),(162,6.4),(172,6.3),(175,6.85),(177,6.65),(196,7.2),(198,6.9),(213,7.05),(218,7.15),(66,6.3),(65,6.25),(47,6),(92,6),(85,5.8),(87,5.75),(114,5.8),(132,5.45),(142,5.65),(158,5.8),(178,5.85),(193,5.75),(193,5.5),(207,6.1),(92,5.35),(36,5.5),(28,5.5),(28,5.15),(34,5.05),(53,4.9),(72,4.8),(85,4.8),(115,5.15),(122,4.95),(148,5.15),(160,5.05),(167,5.05),(170,5.45),(175,4.9),(180,5.15),(188,4.8),(195,5),(200,5),(203,5.1),(205,4.7),(16,4.75),(16,4.1),(30,4.3),(41,4.2),(47,4.25),(65,4.6),(80,4.5),(88,4.55),(94,4.45),(108,4.45),(115,4.6),(116,4.2),(132,4.4),(142,4.4),(148,4.35),(158,4.15),(168,4.85),(190,4.3),(200,4.25),(234,4.1),(20,3.15),(32,3.05),(39,3.5),(28,2.7),(52,2.8),(218,3.8),(225,3.75),(226,3.35),(228,3.1),(230,2.6),(232,2.65),(232,2.1),(232,1.55),(234,1.0),(232,.85),(235,.55),(228,.3),(222,.25),
 (-10,1.9),(-6,1.9),(0,1.95),(2,1.9),(-6,1.35),(-8,.7),(3,.8),(5,.65),(5,.3),(10,.05),(3,-.25),(5,-.4),(10,-.8),(15,-.7),(15,-.65),(12,-1.5),(8,-.95),(-7,-1.4),(-6,-1.75),(8,-1.55),(12,1.9),(13,2.1),(10,1.75),(20,1.7),(22,1.4),(20,1.0),(25,.6),(30,.5),(30,-.55),(32,-.45),(36,-.65),(40,.1),(45,.0),(48,-1.2),(52,-.65),(55,-.4),(52,-1.95),(55,-3),(56,-2.9),(65,-2),(70,-2),(69,-2.05),(40,-2.25),(75,-2.9),(82,-2.75),(85,-3),(85,-2.4),(90,-2.3),(92,-3),(95,-2.3),(95,-2.9),(85,-3.95),(100,-2.3),(105,-2.1),(108,-2.3),(105,-3.5),(107,-3.5),(110,-3.5),(108,-3.05),(115,-2.3),(120,-2.5),(125,-2.5),(122,-2.8),(130,-4.2),(145,-2.2),(145,-2.9),(150,-3),(155,-1.9),(158,-3),(163,-3.5),(165,-3.15),(170,-3.45),(172,-3),(172,-2.9),(175,-2.5),(180,-2.75),(185,-2.5),(185,-3.4),(190,-2.4),(192,-2.9),(195,-3.6),(205,-3.05),(210,-2.5),(210,-3.2),(196,-2.1),(225,-3.5),(228,-2.9),(36,-4.55),(60,-5.25),(70,-5.2),(100,-5.45),(130,-5.2),(150,-5.75),(160,-5.3),(170,-5.4),(165,-6.25),(66,-6.2),(190,-5.6),(213,-6),(148,-4.9),(195,-4.9),(195,-3.8),(198,-4.2),(200,-4.4),(225,-4.55),(173,-4.5),(160,-4.5),(155,-4.9)]
gz_right_core = [(35,1.6),(40,2.0),(44,1.3),(48,2.2),(50,1.0),(52,.5),(54,1.7),(56,3.2),(58,2.4),(60,-.1),(62,1.3),(64,3.7),(66,.8),(68,2.7),(70,1.9),(72,-.4),(74,3.3),(76,1.1),(78,2.2),(80,.3),(82,3.6),(84,1.6),(86,2.8),(88,.6),(90,-.6),(92,3.2),(94,1.9),(96,.1),(98,2.5),(100,-.9),(102,1.2),(104,3.7),(106,.6),(108,2.2),(110,-1.1),(112,3.0),(114,1.5),(116,-.3),(118,2.6),(120,.9),(122,-1.5),(124,3.4),(126,1.8),(128,.2),(130,3.9),(132,-1.0),(134,2.4),(136,1.2),(138,-.5),(140,3.2),(142,.7),(144,2.0),(146,-1.2),(148,3.7),(150,1.4),(152,-.2),(154,2.8),(156,.5),(158,-.9),(160,3.3),(162,1.7),(164,.1),(166,2.5),(168,-1.3),(170,3.9),(172,1.0),(174,-.5),(176,2.9),(178,1.6),(180,.4),(182,-1.1),(184,3.6),(186,2.1),(188,.8),(190,-.7),(192,3.2),(194,1.4),(196,-1.4),(198,2.6),(200,.3),(202,3.0),(204,1.9),(206,-.4),(208,.9),(210,2.5),(212,-.9),(214,1.6),(216,3.4),(218,.5),(220,2.1),(222,1.0),(224,2.9),(226,1.6),(228,.6),
 (58,1.1),(60,2.8),(62,.2),(64,2.0),(66,3.1),(68,.4),(70,1.4),(72,2.9),(74,.9),(76,2.4),(78,3.5),(80,1.2),(82,.1),(84,2.2),(86,.9),(88,3.4),(90,1.5),(92,.2),(94,2.7),(96,1.2),(98,3.6),(100,.6),(102,2.2),(104,-.4),(106,1.7),(108,3.2),(110,.8),(112,1.9),(114,-.7),(116,2.9),(118,1.3),(120,.1),(122,3.1),(124,.7),(126,2.3),(128,-.8),(130,1.4),(132,3.0),(134,.4),(136,2.2),(138,1.0),(140,-.8),(142,2.7),(144,1.3),(146,.2),(148,2.3),(150,3.1),(152,.9),(154,1.8),(156,-.4),(158,2.6),(160,1.1),(162,3.5),(164,.5),(166,1.6),(168,3.0),(170,.1),(172,2.2),(174,1.2),(176,3.7),(178,.5),(180,2.3),(182,1.1),(184,-.2),(186,3.0),(188,1.5),(190,.2),(192,2.4),(194,.6),(196,3.4),(198,1.2),(200,-.5),(202,2.3),(204,.8),(206,2.9),(208,1.7),(210,.1),(212,3.2),(214,.7),(216,2.3),(218,1.4),(220,-.2),(222,3.1),(224,.5),(226,2.3),(228,1.2),
 (96,1.6),(100,2.0),(104,1.0),(108,1.4),(112,.4),(116,1.1),(118,2.0),(120,1.6),(122,2.4),(124,1.1),(126,.4),(128,2.7),(130,1.9),(132,.5),(134,1.6),(136,3.3),(138,2.0),(140,.9),(142,1.7),(144,.3),(146,2.4),(148,.9),(150,2.2),(152,1.5),(154,.2),(156,2.2),(158,1.5),(160,.6),(162,2.4),(164,1.2),(166,2.0),(168,.7),(170,1.5),(172,3.0),(174,2.0),(176,.8),(178,2.5),(180,1.4),(182,.3),(184,1.7),(186,1.0),(188,2.5),(190,1.1),(192,.4),(194,2.1),(196,1.4),(198,.6),(200,2.0),(204,1.4),(208,2.6),(212,1.7),(216,1.1),(220,1.7),(224,1.5),
 (110,1.3),(114,2.2),(118,.7),(122,1.7),(126,1.2),(130,.8),(134,1.1),(138,1.5),(142,1.1),(146,1.6),(150,.6),(154,1.3),(158,1.9),(162,.9),(166,1.1),(170,2.0),(174,.6),(178,1.9),(182,1.7),(186,.4),(190,1.7),(194,1.0),(198,1.8),(202,.9),(206,1.4),(210,1.1),(214,2.1),(218,.9),(222,1.6),
 (73,1.6),(77,.5),(81,2.0),(85,1.3),(89,2.3),(93,.9),(97,2.1),(101,1.5),(105,2.6),(107,1.1),(111,2.7),(113,.6),(115,2.2),(117,1.6),(119,.4),(121,2.2),(123,1.3),(125,2.8),(127,.9),(129,2.1),(131,1.2),(133,2.7),(135,.7),(137,1.8),(139,2.5),(141,1.4),(143,.7),(145,2.0),(147,1.2),(149,2.7),(151,.3),(153,2.2),(155,.9),(157,1.6),(159,2.4),(161,.4),(163,1.4),(165,.9),(167,2.3),(169,1.3),(171,.5),(173,1.7),(175,2.4),(177,1.1),(179,.7),(181,2.0),(183,2.6),(185,1.4),(187,.6),(189,1.9),(191,1.2),(193,2.8),(195,.9),(197,1.6),(199,.9),(201,2.6),(203,1.3),(205,2.3),(207,.6),(209,1.7),(211,.9),(213,2.5),(215,1.4),(217,.6),(219,2.0),(221,1.2),(223,2.4),(225,.9),(227,1.9)]

# tick values and labels
sector_ticks = [0, 2, 4, 6, 8, 10, 12, 14, 16, 18]
palette_ticks = [-0.8, -0.6, -0.4, -0.2, 0, 0.2, 0.4, 0.6, 0.8]
palette_labels = ['-0.8', '-0.6', '-0.4', '-0.2', '0', '0.2', '0.4', '0.6', '0.8']
eta_ticks = [-1, -0.8, -0.6, -0.4, -0.2, 0, 0.2, 0.4, 0.6, 0.8, 1]
eta_labels = ['-1', '-0.8', '-0.6', '-0.4', '-0.2', '0', '0.2', '0.4', '0.6', '0.8', '1']

palette_nodes = [(0.0, (0.55, 0.0, 1.0)), (0.13, (0.05, 0.0, 1.0)), (0.3, (0.0, 0.45, 1.0)),
                 (0.38, (0.0, 1.0, 1.0)), (0.5, (0.0, 1.0, 0.25)), (0.6, (0.1, 0.95, 0.0)),
                 (0.78, (1.0, 0.9, 0.0)), (0.88, (1.0, 0.45, 0.0)), (1.0, (1.0, 0.0, 0.0))]
palette = LinearSegmentedColormap.from_list('root_rainbow', palette_nodes, N=50)
palette_norm = BoundaryNorm(np.linspace(-0.98, 0.98, 51), 50)


def add_ax(x0, y0, x1, y1):
    return fig.add_axes([x0 / W, 1 - y1 / H, (x1 - x0) / W, (y1 - y0) / H])


def title_box(x0, y0, x1, y1, text, size):
    ax = add_ax(x0, y0, x1, y1)
    ax.set_xticks([])
    ax.set_yticks([])
    for s in ax.spines.values():
        s.set_linewidth(1.3)
    ax.text(0.5, 0.5, text, transform=ax.transAxes, ha='center', va='center', fontsize=size)


def style(ax, xticks, xlabels, xminor, yticks, yminor):
    ax.set_xticks(xticks, labels=xlabels)
    ax.set_xticks(xminor, minor=True)
    ax.set_yticks(yticks, labels=[('%g' % v) for v in yticks])
    ax.set_yticks(yminor, minor=True)
    ax.tick_params(axis='x', which='major', direction='in', length=9.5, width=1.1, labelsize=17.5, pad=5)
    ax.tick_params(axis='x', which='minor', direction='in', length=5, width=1.1)
    ax.tick_params(axis='y', which='major', direction='in', length=11, width=1.1, labelsize=17.5, pad=4)
    ax.tick_params(axis='y', which='minor', direction='in', length=5.5, width=1.1)
    for s in ax.spines.values():
        s.set_linewidth(1.3)


def theta_panel(ax, groups, ylim, yticks, yminor):
    ax.set_facecolor(palette(palette_norm(0.05)))
    for pts, level, lw in groups:
        xs = [p[0] for p in pts]
        ys = [p[1] for p in pts]
        ax.scatter(xs, ys, marker='s', s=26, facecolors='none', edgecolors=[palette(palette_norm(level))], linewidths=lw)
    ax.set_xlim(0, 19)
    ax.set_ylim(*ylim)
    style(ax, sector_ticks, [str(t) for t in sector_ticks], np.arange(0, 19.01, 0.5), yticks, yminor)


def color_bar(x0, y0, x1, y1, clip_x):
    ax = add_ax(x0, y0, x1, y1)
    edges = np.linspace(-0.98, 0.98, 51)
    mids = (edges[:-1] + edges[1:]) / 2
    ax.pcolormesh([0, 1], edges, mids[:, None], cmap=palette, norm=palette_norm)
    ax.set_xlim(0, 1)
    ax.set_ylim(-0.98, 0.98)
    ax.set_xticks([])
    ax.yaxis.tick_right()
    ax.set_yticks(palette_ticks, labels=[])
    ax.tick_params(axis='y', direction='in', length=11, width=1.0)
    for s in ax.spines.values():
        s.set_visible(False)
    box = Bbox([[0, 0], [clip_x, H]])
    for v, lab in zip(palette_ticks, palette_labels):
        t = ax.text(1.05, v, lab, transform=ax.get_yaxis_transform(), ha='left', va='center', fontsize=19, clip_on=True)
        t.set_clip_box(box)


def grey_note(x0, y0, x1, y1, tx):
    fig.add_artist(Rectangle((x0 / W, 1 - y1 / H), (x1 - x0) / W, (y1 - y0) / H, transform=fig.transFigure,
                             facecolor='#808080', edgecolor='black', linewidth=1.0, zorder=5))
    fig.text(tx / W, 1 - ((y0 + y1) / 2 + 3.5) / H, 'In Pass 0 calibration/QA', fontsize=25, fontweight='normal',
             ha='left', va='center', zorder=6)


def mass_panel(ax, blue, blue_err, red, red_err, ylim, yticks, yminor):
    for vals, errs, col in ((blue, blue_err, '#0000ff'), (red, red_err, '#ff0000')):
        xs = [x for x, v in zip(bin_x, vals) if v is not None]
        ys = [v for v in vals if v is not None]
        es = [e for e, v in zip(errs, vals) if v is not None]
        ax.errorbar(xs, ys, yerr=es, xerr=0.02, fmt='none', ecolor='black', elinewidth=1.1, zorder=2)
        ax.plot(xs, ys, 's', ms=4.8, mfc='white', mec=col, mew=1.3, zorder=3, clip_on=True)
    ax.set_xlim(-1, 1)
    ax.set_ylim(*ylim)
    style(ax, eta_ticks, eta_labels, np.arange(-1, 1.001, 0.05), yticks, yminor)


def stats_box(x0, y0, x1, y1, lx, rx, rows, names, values):
    fig.add_artist(Rectangle((x0 / W, 1 - y1 / H), (x1 - x0) / W, (y1 - y0) / H, transform=fig.transFigure,
                             facecolor='white', edgecolor='black', linewidth=1.0, zorder=5))
    for yy, n, v in zip(rows, names, values):
        fig.text(lx / W, 1 - yy / H, n, fontsize=11.2, color='#222222', ha='left', va='center', zorder=6)
        fig.text(rx / W, 1 - yy / H, v, fontsize=11.2, color='#222222', ha='right', va='center', zorder=6)


fig = plt.figure(figsize=(W / 100, H / 100), dpi=100, facecolor='white')

# top row
col_x = [(77.5, 560), (718.5, 1201), (1359.5, 1842)]
bar_x = [(562.5, 590.5), (1203, 1231), (1844, 1872)]
clip_x = [618, 1259, 1900]
titles = ['Δ$_{Y}$ at Vertex (Color code Θ)', 'Δ$_{Y}$ at ITS (Color Code Θ)', 'Δ$_{Y}$ at TPCCE (Color Code Θ)']
title_sizes = [25.2, 26.4, 25.2]
ylabels = ['Vertex ΔRϕ (mm)', 'ITS ΔRϕ (mm)', 'TPC ΔRϕ (mm)']
label_x = [32, 675, 1316]
ylims = [(-5, 6), (-3, 2.5), (-3, 3.5)]
yticks_top = [[-4, -2, 0, 2, 4, 6], [-3, -2, -1, 0, 1, 2], [-3, -2, -1, 0, 1, 2, 3]]
yminor_top = [np.arange(-5, 6.01, 0.5), np.arange(-3, 2.51, 0.2), np.arange(-3, 3.51, 0.2)]
panels_top = [
    [(vtx_green, theta_green, .7), (vtx_cyan, theta_cyan, 1.0), (vtx_purple, theta_purple, 1.1), (vtx_blue, theta_blue, 1.2),
     (vtx_yellow, theta_yellow, 1.0), (vtx_orange, theta_orange, 1.1), (vtx_red, theta_red, 1.2)],
    [(its_green, theta_green, .7), (its_cyan, theta_cyan, 1.0), (its_purple, theta_purple, 1.1), (its_blue, theta_blue, 1.2),
     (its_yellow, theta_yellow, 1.0), (its_orange, theta_orange, 1.1), (its_red, theta_red, 1.2)],
    [(tpc_green, theta_green, .7), (tpc_cyan, theta_cyan, 1.0), (tpc_purple, theta_purple, 1.1), (tpc_blue, theta_blue, 1.2),
     (tpc_yellow, theta_yellow, 1.0), (tpc_orange, theta_orange, 1.1), (tpc_red, theta_red, 1.2)],
]
grey_boxes = [(86, 54, 518, 109, 105), (728.5, 61, 1160, 117, 747), (1371, 61, 1803, 117, 1390)]

for i in range(3):
    x0, x1 = col_x[i]
    title_box(x0, 7.5, x1, 48.5, titles[i], title_sizes[i])
    ax = add_ax(x0, 56, x1, 469.5)
    theta_panel(ax, panels_top[i], ylims[i], yticks_top[i], yminor_top[i])
    color_bar(bar_x[i][0], 56.5, bar_x[i][1], 469.5, clip_x[i])
    fig.text(label_x[i] / W, 1 - 55 / H, ylabels[i], rotation=90, ha='center', va='top', fontsize=16.5)
    fig.text((x1 - 3) / W, 1 - 507 / H, 'sector', ha='right', va='center', fontsize=17.5)
    grey_note(*grey_boxes[i])

# bottom left
title_box(77.5, 543.5, 560, 585.5, 'Lambda/AntiLambdaΔ$_{Mass}$ (TPC only)', 19.6)
ax = add_ax(77.5, 593.5, 560, 1004.5)
mass_panel(ax, lam_blue, lam_blue_err, lam_red, lam_red_err, (-3.6, 2.43), [-3, -2, -1, 0, 1, 2], np.arange(-3.6, 2.41, 0.2))
stats_box(439.5, 593.5, 560, 675.5, 446, 552, [604, 624, 644, 664], ['Mean', 'Mean y', 'RMS', 'RMS y'],
          ['0.01942', '-0.7123', '0.5853', '3.238'])
fig.text(32 / W, 1 - 591 / H, 'Δ$_{M}$ (MeV)', rotation=90, ha='center', va='top', fontsize=18)

# bottom middle
title_box(718.5, 543.5, 1201, 585.5, 'K0Δ$_{Mass}$ (TPC only)', 26.2)
ax = add_ax(718.5, 592.5, 1201, 1004.5)
mass_panel(ax, k0_blue, k0_blue_err, k0_red, k0_red_err, (-5.02, 2.22), [-5, -4, -3, -2, -1, 0, 1, 2], np.arange(-5, 2.21, 0.2))
stats_box(1080, 593, 1201, 675.5, 1085, 1192, [603, 624, 645, 665], ['Mean', 'Mean y', 'RMS', 'RMS y'],
          ['0.01029', '-1.437', '0.5826', '7.364'])
fig.text(675 / W, 1 - 591 / H, 'Δ$_{M}$ (MeV)', rotation=90, ha='center', va='top', fontsize=18)

# bottom right
title_box(1359.5, 543.5, 1842, 585.5, '1000*mean:gz {isCosmic&&ptype==3&&id<2}', 16.1)
ax = add_ax(1359.5, 593.5, 1842, 1004.5)
for pts in (gz_left_outer, gz_left_core, gz_right_outer, gz_right_core):
    ax.scatter([p[0] for p in pts], [p[1] for p in pts], marker='s', s=26, facecolors='none', edgecolors='#ff0000', linewidths=1.3)
ax.set_xlim(-260, 261)
ax.set_ylim(-9, 9)
style(ax, [-200, -100, 0, 100, 200], ['-200', '-100', '0', '100', '200'], np.arange(-240, 241, 20),
      [-8, -6, -4, -2, 0, 2, 4, 6, 8], np.arange(-8.5, 8.51, 0.5))
fig.text(1316 / W, 1 - 591 / H, '1000*mean', rotation=90, ha='center', va='top', fontsize=17)
fig.text(1838 / W, 1 - 1040 / H, 'gz', ha='right', va='center', fontsize=17.5)

fig.savefig('out.png', dpi=100)
